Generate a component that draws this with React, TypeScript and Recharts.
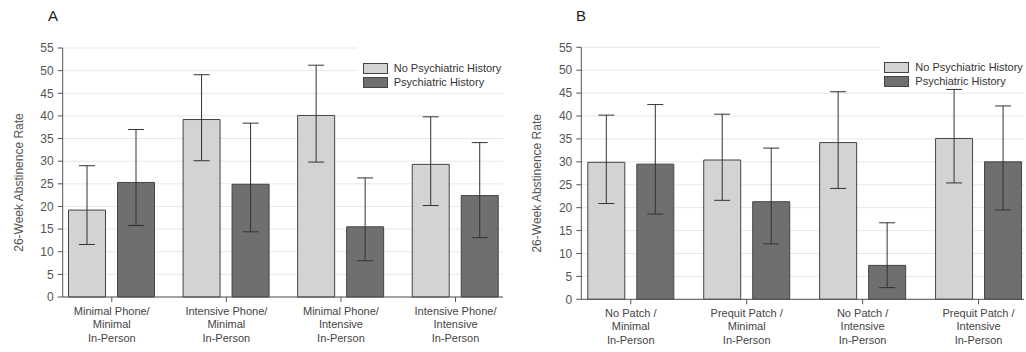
import React from 'react';
import { BarChart, Bar, XAxis, YAxis, CartesianGrid, ErrorBar } from 'recharts';

// Panel A: phone x in-person counseling
const categoriesA = [
  'Minimal Phone/\nMinimal\nIn-Person',
  'Intensive Phone/\nMinimal\nIn-Person',
  'Minimal Phone/\nIntensive\nIn-Person',
  'Intensive Phone/\nIntensive\nIn-Person',
];
const noHistA = [19.2, 39.2, 40.1, 29.3];
const noHistLowA = [11.6, 30.1, 29.8, 20.2];
const noHistHighA = [29.0, 49.1, 51.2, 39.8];
const histA = [25.3, 24.9, 15.5, 22.4];
const histLowA = [15.8, 14.4, 8.0, 13.1];
const histHighA = [37.0, 38.4, 26.3, 34.1];

// Panel B: patch x in-person counseling
const categoriesB = [
  'No Patch /\nMinimal\nIn-Person',
  'Prequit Patch /\nMinimal\nIn-Person',
  'No Patch /\nIntensive\nIn-Person',
  'Prequit Patch /\nIntensive\nIn-Person',
];
const noHistB = [29.9, 30.4, 34.2, 35.1];
const noHistLowB = [20.9, 21.6, 24.2, 25.4];
const noHistHighB = [40.2, 40.4, 45.3, 45.8];
const histB = [29.5, 21.3, 7.4, 30.0];
const histLowB = [18.6, 12.1, 2.55, 19.5];
const histHighB = [42.5, 33.0, 16.7, 42.2];

const yTicks = [0, 5, 10, 15, 20, 25, 30, 35, 40, 45, 50, 55];
const seriesNames = ['No Psychiatric History', 'Psychiatric History'];
const yLabel = '26-Week Abstinence Rate';

const FONT = '"Liberation Sans", Arial, sans-serif';
const LIGHT = '#d3d3d3';
const DARK = '#6f6f6f';
const EDGE = '#444';
const AXIS = '#555';

const buildRows = (
  cats: string[], v1: number[], lo1: number[], hi1: number[],
  v2: number[], lo2: number[], hi2: number[],
) =>
  cats.map((c, i) => ({
    cat: c,
    noHist: v1[i],
    noHistErr: [v1[i] - lo1[i], hi1[i] - v1[i]],
    hist: v2[i],
    histErr: [v2[i] - lo2[i], hi2[i] - v2[i]],
  }));

const rowsA = buildRows(categoriesA, noHistA, noHistLowA, noHistHighA, histA, histLowA, histHighA);
const rowsB = buildRows(categoriesB, noHistB, noHistLowB, noHistHighB, histB, histLowB, histHighB);

const CatTick = ({ x, y, payload }: any) => {
  const lines = String(payload.value).split('\n');
  return (
    <text x={x} y={y} textAnchor="middle" fontSize={11} fill="#444" fontFamily={FONT}>
      {lines.map((l, i) => (
        <tspan key={i} x={x} dy={i === 0 ? 12.5 : 13.5}>{l}</tspan>
      ))}
    </text>
  );
};

const YLabel = ({ viewBox, dx }: any) => {
  const cx = viewBox.x + dx;
  const cy = viewBox.y + viewBox.height / 2 + 10;
  return (
    <text x={cx} y={cy} transform={`rotate(-90 ${cx} ${cy})`} textAnchor="middle"
      dominantBaseline="central" fontSize={12} fill="#555" fontFamily={FONT}>
      {yLabel}
    </text>
  );
};

interface PanelProps {
  rows: any[];
  title: string;
  left: number;
  top: number;
  right: number;
  yWidth: number;
  xHeight: number;
  padLeft: number;
  padRight: number;
  labelDx: number;
  titleX: number;
  legend: { x: number; y: number; w: number; h: number; sx: number; sy: number };
}

const Panel = (p: PanelProps) => (
  <div style={{ position: 'absolute', left: p.left, top: 0, width: 513, height: 352 }}>
    <div style={{ position: 'absolute', left: p.titleX, top: 7, fontSize: 15, fontFamily: FONT, color: '#222' }}>
      {p.title}
    </div>
    <BarChart width={513} height={352} data={p.rows} barSize={37} barGap={12}
      margin={{ top: p.top, right: p.right, bottom: 5, left: 0 }}>
      <CartesianGrid vertical={false} stroke="#e8e8e8" />
      <YAxis type="number" domain={[0, 55]} ticks={yTicks} interval={0} width={p.yWidth}
        tick={{ fontSize: 12, fill: '#555', fontFamily: FONT }} tickSize={5} tickMargin={4}
        axisLine={{ stroke: AXIS }} tickLine={{ stroke: AXIS }}
        label={<YLabel dx={p.labelDx} />} />
      <XAxis dataKey="cat" height={p.xHeight} interval={0} tick={<CatTick />}
        padding={{ left: p.padLeft, right: p.padRight }} tickSize={5} tickMargin={0}
        axisLine={{ stroke: AXIS }} tickLine={{ stroke: AXIS }} />
      <Bar dataKey="noHist" fill={LIGHT} stroke={EDGE} strokeWidth={1} isAnimationActive={false}>
        <ErrorBar dataKey="noHistErr" direction="y" width={8} stroke="#333" strokeWidth={1} />
      </Bar>
      <Bar dataKey="hist" fill={DARK} stroke={EDGE} strokeWidth={1} isAnimationActive={false}>
        <ErrorBar dataKey="histErr" direction="y" width={8} stroke="#333" strokeWidth={1} />
      </Bar>
    </BarChart>
    <div style={{ position: 'absolute', left: p.legend.x, top: p.legend.y, width: p.legend.w,
      height: p.legend.h, background: '#fff', fontFamily: FONT, fontSize: 11, color: '#333' }}>
      {seriesNames.map((n, i) => (
        <div key={n} style={{ position: 'absolute', left: p.legend.sx, top: p.legend.sy + i * 14,
          display: 'flex', alignItems: 'center', whiteSpace: 'nowrap' }}>
          <span style={{ display: 'inline-block', width: 23, height: 9, background: i === 0 ? LIGHT : DARK,
            border: `1px solid ${EDGE}`, marginRight: 6 }} />
          <span style={{ lineHeight: '11px' }}>{n}</span>
        </div>
      ))}
    </div>
  </div>
);

export default function App() {
  return (
    <div style={{ position: 'absolute', left: 0, top: 0, width: 1026, height: 352, background: '#fff' }}>
      <Panel rows={rowsA} title="A" left={0} top={48} right={10} yWidth={62.7} xHeight={50}
        padLeft={-8.2} padRight={-9.8} labelDx={18.5} titleX={48}
        legend={{ x: 357, y: 44, w: 146, h: 43, sx: 5.7, sy: 18.7 }} />
      <Panel rows={rowsB} title="B" left={513} top={47.3} right={2} yWidth={68.3} xHeight={47.7}
        padLeft={-8.5} padRight={-12.5} labelDx={24} titleX={63}
        legend={{ x: 367, y: 44, w: 146, h: 43, sx: 4.3, sy: 18.3 }} />
    </div>
  );
}
